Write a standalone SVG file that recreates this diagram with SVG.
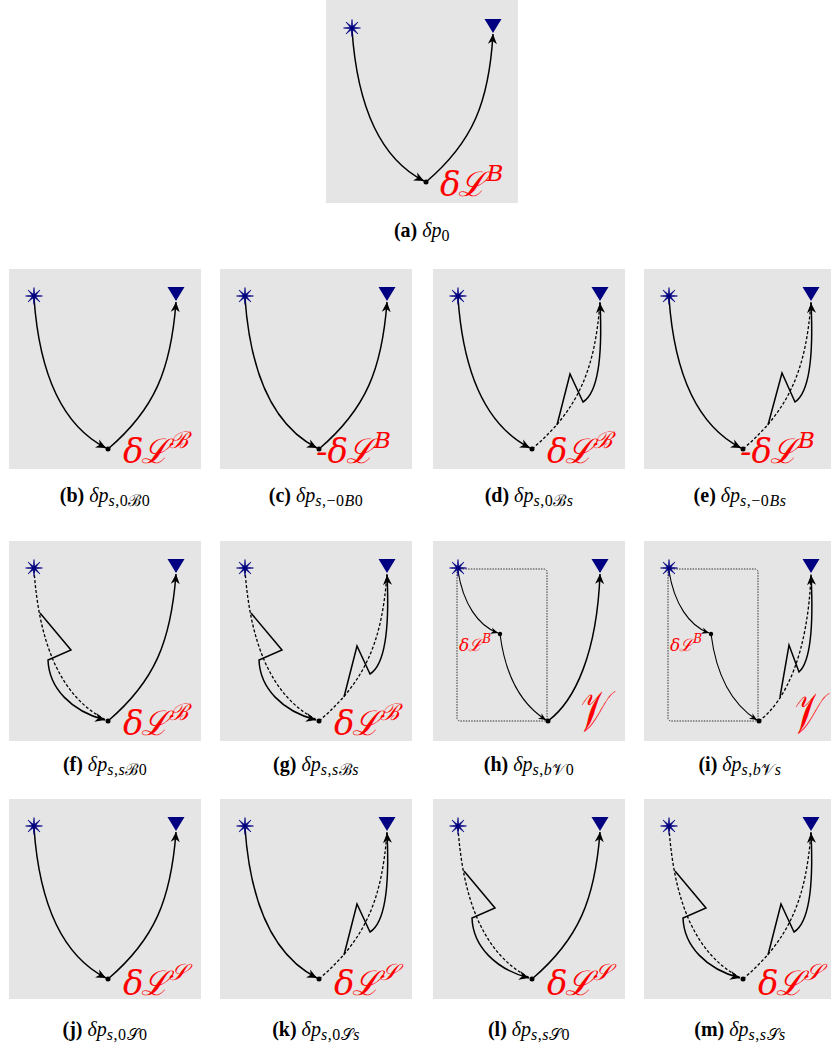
<svg xmlns="http://www.w3.org/2000/svg" xmlns:xlink="http://www.w3.org/1999/xlink" width="831" height="1045" viewBox="0 0 831 1045">
<style>
.box{fill:#e5e5e5;stroke:none}
.c{fill:none;stroke:#000;stroke-width:1.5}
.ct{fill:none;stroke:#000;stroke-width:1.1}
.d{fill:none;stroke:#000;stroke-width:1.3;stroke-dasharray:3 2}
.dr{fill:none;stroke:#333;stroke-width:1;stroke-dasharray:1.5 1.2}
.star{fill:#000080;stroke:#000080;stroke-width:0.6}
.tri{fill:#000080}
.dot{fill:#000}
.lab{fill:#ff0000;font-family:"DejaVu Serif",serif;font-style:italic;font-size:34px}
.labs{fill:#ff0000;font-family:"DejaVu Serif",serif;font-style:italic;font-size:17px}
.cap{font-family:"Liberation Serif","Times New Roman",serif;font-size:20px;fill:#000}
.bf{font-weight:bold}
.it{font-style:italic}
.sub{font-size:16px;letter-spacing:0.5px}
</style>
<defs>
<marker id="ah" markerUnits="userSpaceOnUse" viewBox="-11 -6 12 12" markerWidth="12" markerHeight="12" refX="0" refY="0" orient="auto">
<path d="M0,0 L-10,-4.5 L-7,0 L-10,4.5 Z" fill="#000"/>
</marker>
<marker id="ahs" markerUnits="userSpaceOnUse" viewBox="-11 -6 12 12" markerWidth="10" markerHeight="10" refX="0" refY="0" orient="auto">
<path d="M0,0 L-9,-4 L-6,0 L-9,4 Z" fill="#000"/>
</marker>
<polygon id="starS" class="star" points="0,-8.5 0.77,-1.85 6.01,-6.01 1.85,-0.77 8.5,0 1.85,0.77 6.01,6.01 0.77,1.85 0,8.5 -0.77,1.85 -6.01,6.01 -1.85,0.77 -8.5,0 -1.85,-0.77 -6.01,-6.01 -0.77,-1.85"/>
<polygon id="triS" class="tri" points="-8.5,-7 8.5,-7 0,7"/>
</defs>

<!-- (a) -->
<g id="panel-a" transform="translate(326,0)">
<rect class="box" x="0" y="0" width="192" height="203"/>
<g id="a-connectors">
<path class="c" d="M26,30 C31,102 51,157 98,181" marker-end="url(#ah)"/>
<path class="c" d="M100,182 C147,142 163,102 167,34" marker-end="url(#ah)"/>
</g>
<g id="a-start"><use xlink:href="#starS" x="26" y="28"/></g>
<g id="a-end"><use xlink:href="#triS" x="167" y="26"/></g>
<g id="a-mid"><circle class="dot" cx="100" cy="182" r="2.5"/></g>
<text class="lab" x="114" y="196">δ<tspan dx="-2">ℒ</tspan><tspan font-size="23" dy="-15">B</tspan></text>
</g>
<text class="cap" x="422" y="237" text-anchor="middle"><tspan class="bf">(a)</tspan> <tspan class="it">δp</tspan><tspan class="sub" dy="4">0</tspan></text>

<!-- (b) -->
<g id="panel-b" transform="translate(9,269)">
<rect class="box" x="0" y="0" width="192" height="200"/>
<g id="b-connectors">
<path class="c" d="M25,29 C30,100 50,155 97,179" marker-end="url(#ah)"/>
<path class="c" d="M99,180 C146,140 162,100 167,33" marker-end="url(#ah)"/>
</g>
<g id="b-start"><use xlink:href="#starS" x="25" y="27"/></g>
<g id="b-end"><use xlink:href="#triS" x="167" y="25"/></g>
<g id="b-mid"><circle class="dot" cx="99" cy="180" r="2.5"/></g>
<text class="lab" x="114" y="194">δ<tspan dx="-2">ℒ</tspan><tspan font-size="23" dy="-15">ℬ</tspan></text>
</g>
<text class="cap" x="105" y="502" text-anchor="middle"><tspan class="bf">(b)</tspan> <tspan class="it">δp</tspan><tspan class="sub it" dy="4">s</tspan><tspan class="sub">,0ℬ0</tspan></text>

<!-- (c) -->
<g id="panel-c" transform="translate(220,269)">
<rect class="box" x="0" y="0" width="192" height="200"/>
<g id="c-connectors">
<path class="c" d="M25,29 C30,100 50,155 97,179" marker-end="url(#ah)"/>
<path class="c" d="M99,180 C146,140 162,100 167,33" marker-end="url(#ah)"/>
</g>
<g id="c-start"><use xlink:href="#starS" x="25" y="27"/></g>
<g id="c-end"><use xlink:href="#triS" x="167" y="25"/></g>
<g id="c-mid"><circle class="dot" cx="99" cy="180" r="2.5"/></g>
<text class="lab" x="96" y="194">-δ<tspan dx="-2">ℒ</tspan><tspan font-size="23" dy="-15">B</tspan></text>
</g>
<text class="cap" x="316" y="502" text-anchor="middle"><tspan class="bf">(c)</tspan> <tspan class="it">δp</tspan><tspan class="sub it" dy="4">s</tspan><tspan class="sub">,−0</tspan><tspan class="sub it">B</tspan><tspan class="sub">0</tspan></text>

<!-- (d) -->
<g id="panel-d" transform="translate(433,269)">
<rect class="box" x="0" y="0" width="192" height="200"/>
<g id="d-connectors">
<path class="c" d="M25,29 C30,100 50,155 97,179" marker-end="url(#ah)"/>
<path class="d" d="M99,180 C146,140 162,100 167,33"/>
<path class="c" d="M124,156 L137,105 L150,133 C163,125 170,95 167,34" marker-end="url(#ah)"/>
</g>
<g id="d-start"><use xlink:href="#starS" x="25" y="27"/></g>
<g id="d-end"><use xlink:href="#triS" x="167" y="25"/></g>
<g id="d-mid"><circle class="dot" cx="99" cy="180" r="2.5"/></g>
<text class="lab" x="114" y="194">δ<tspan dx="-2">ℒ</tspan><tspan font-size="23" dy="-15">ℬ</tspan></text>
</g>
<text class="cap" x="529" y="502" text-anchor="middle"><tspan class="bf">(d)</tspan> <tspan class="it">δp</tspan><tspan class="sub it" dy="4">s</tspan><tspan class="sub">,0ℬ</tspan><tspan class="sub it">s</tspan></text>

<!-- (e) -->
<g id="panel-e" transform="translate(644,269)">
<rect class="box" x="0" y="0" width="192" height="200"/>
<g id="e-connectors">
<path class="c" d="M25,29 C30,100 50,155 97,179" marker-end="url(#ah)"/>
<path class="d" d="M99,180 C146,140 162,100 167,33"/>
<path class="c" d="M124,156 L138,104 L151,133 C163,125 170,95 167,34" marker-end="url(#ah)"/>
</g>
<g id="e-start"><use xlink:href="#starS" x="25" y="27"/></g>
<g id="e-end"><use xlink:href="#triS" x="167" y="25"/></g>
<g id="e-mid"><circle class="dot" cx="99" cy="180" r="2.5"/></g>
<text class="lab" x="96" y="194">-δ<tspan dx="-2">ℒ</tspan><tspan font-size="23" dy="-15">B</tspan></text>
</g>
<text class="cap" x="740" y="502" text-anchor="middle"><tspan class="bf">(e)</tspan> <tspan class="it">δp</tspan><tspan class="sub it" dy="4">s</tspan><tspan class="sub">,−0</tspan><tspan class="sub it">Bs</tspan></text>

<!-- (f) -->
<g id="panel-f" transform="translate(9,541)">
<rect class="box" x="0" y="0" width="192" height="200"/>
<g id="f-connectors">
<path class="d" d="M25,29 C30,100 50,155 97,179"/>
<path class="c" d="M31,72 L62,109 L39,119 C40,147 62,170 96,179" marker-end="url(#ah)"/>
<path class="c" d="M99,180 C146,140 162,100 167,33" marker-end="url(#ah)"/>
</g>
<g id="f-start"><use xlink:href="#starS" x="25" y="27"/></g>
<g id="f-end"><use xlink:href="#triS" x="167" y="25"/></g>
<g id="f-mid"><circle class="dot" cx="99" cy="180" r="2.5"/></g>
<text class="lab" x="114" y="194">δ<tspan dx="-2">ℒ</tspan><tspan font-size="23" dy="-15">ℬ</tspan></text>
</g>
<text class="cap" x="105" y="771" text-anchor="middle"><tspan class="bf">(f)</tspan> <tspan class="it">δp</tspan><tspan class="sub it" dy="4">s</tspan><tspan class="sub">,</tspan><tspan class="sub it">s</tspan><tspan class="sub">ℬ0</tspan></text>

<!-- (g) -->
<g id="panel-g" transform="translate(220,541)">
<rect class="box" x="0" y="0" width="192" height="200"/>
<g id="g-connectors">
<path class="d" d="M25,29 C30,100 50,155 97,179"/>
<path class="c" d="M31,72 L62,109 L39,119 C40,147 62,170 96,179" marker-end="url(#ah)"/>
<path class="d" d="M99,180 C146,140 162,100 167,33"/>
<path class="c" d="M124,156 L137,105 L150,133 C163,125 170,95 167,34" marker-end="url(#ah)"/>
</g>
<g id="g-start"><use xlink:href="#starS" x="25" y="27"/></g>
<g id="g-end"><use xlink:href="#triS" x="167" y="25"/></g>
<g id="g-mid"><circle class="dot" cx="99" cy="180" r="2.5"/></g>
<text class="lab" x="114" y="194">δ<tspan dx="-2">ℒ</tspan><tspan font-size="23" dy="-15">ℬ</tspan></text>
</g>
<text class="cap" x="316" y="771" text-anchor="middle"><tspan class="bf">(g)</tspan> <tspan class="it">δp</tspan><tspan class="sub it" dy="4">s</tspan><tspan class="sub">,</tspan><tspan class="sub it">s</tspan><tspan class="sub">ℬ</tspan><tspan class="sub it">s</tspan></text>

<!-- (h) -->
<g id="panel-h" transform="translate(433,541)">
<rect class="box" x="0" y="0" width="192" height="200"/>
<rect class="dr" x="24" y="28" width="90" height="152" rx="3"/>
<g id="h-connectors">
<path class="ct" d="M25,30 C30,62 45,85 65,92" marker-end="url(#ahs)"/>
<path class="ct" d="M67,93 C72,132 86,162 113,179" marker-end="url(#ahs)"/>
<path class="c" d="M115,180 C142,160 164,112 167,33" marker-end="url(#ah)"/>
</g>
<g id="h-start"><use xlink:href="#starS" x="25" y="27"/></g>
<g id="h-end"><use xlink:href="#triS" x="167" y="25"/></g>
<g id="h-mid1"><circle class="dot" cx="67" cy="93" r="2.2"/></g>
<g id="h-mid2"><circle class="dot" cx="115" cy="180" r="2.5"/></g>
<text class="labs" x="26" y="110">δ<tspan dx="-1">ℒ</tspan><tspan font-size="12" dy="-8">B</tspan></text>
<g transform="translate(144,190) scale(1,1.7)"><text class="lab" x="0" y="0" font-size="52">𝒱</text></g>
</g>
<text class="cap" x="529" y="771" text-anchor="middle"><tspan class="bf">(h)</tspan> <tspan class="it">δp</tspan><tspan class="sub it" dy="4">s</tspan><tspan class="sub">,</tspan><tspan class="sub it">b</tspan><tspan class="sub">𝒱0</tspan></text>

<!-- (i) -->
<g id="panel-i" transform="translate(644,541)">
<rect class="box" x="0" y="0" width="192" height="200"/>
<rect class="dr" x="24" y="28" width="90" height="152" rx="3"/>
<g id="i-connectors">
<path class="ct" d="M25,30 C30,62 45,85 65,92" marker-end="url(#ahs)"/>
<path class="ct" d="M67,93 C72,132 86,162 113,179" marker-end="url(#ahs)"/>
<path class="d" d="M115,180 C142,160 164,112 167,33"/>
<path class="c" d="M136,156 L145,104 L155,131 C165,122 170,92 167,34" marker-end="url(#ah)"/>
</g>
<g id="i-start"><use xlink:href="#starS" x="25" y="27"/></g>
<g id="i-end"><use xlink:href="#triS" x="167" y="25"/></g>
<g id="i-mid1"><circle class="dot" cx="67" cy="93" r="2.2"/></g>
<g id="i-mid2"><circle class="dot" cx="115" cy="180" r="2.5"/></g>
<text class="labs" x="26" y="110">δ<tspan dx="-1">ℒ</tspan><tspan font-size="12" dy="-8">B</tspan></text>
<g transform="translate(147,192) scale(1,1.7)"><text class="lab" x="0" y="0" font-size="52">𝒱</text></g>
</g>
<text class="cap" x="740" y="771" text-anchor="middle"><tspan class="bf">(i)</tspan> <tspan class="it">δp</tspan><tspan class="sub it" dy="4">s</tspan><tspan class="sub">,</tspan><tspan class="sub it">b</tspan><tspan class="sub">𝒱</tspan><tspan class="sub it">s</tspan></text>

<!-- (j) -->
<g id="panel-j" transform="translate(9,799)">
<rect class="box" x="0" y="0" width="192" height="200"/>
<g id="j-connectors">
<path class="c" d="M25,29 C30,100 50,155 97,179" marker-end="url(#ah)"/>
<path class="c" d="M99,180 C146,140 162,100 167,33" marker-end="url(#ah)"/>
</g>
<g id="j-start"><use xlink:href="#starS" x="25" y="27"/></g>
<g id="j-end"><use xlink:href="#triS" x="167" y="25"/></g>
<g id="j-mid"><circle class="dot" cx="99" cy="180" r="2.5"/></g>
<text class="lab" x="114" y="196">δ<tspan dx="-2">ℒ</tspan><tspan font-size="23" dy="-15">𝒮</tspan></text>
</g>
<text class="cap" x="105" y="1036" text-anchor="middle"><tspan class="bf">(j)</tspan> <tspan class="it">δp</tspan><tspan class="sub it" dy="4">s</tspan><tspan class="sub">,0𝒮0</tspan></text>

<!-- (k) -->
<g id="panel-k" transform="translate(220,799)">
<rect class="box" x="0" y="0" width="192" height="200"/>
<g id="k-connectors">
<path class="c" d="M25,29 C30,100 50,155 97,179" marker-end="url(#ah)"/>
<path class="d" d="M99,180 C146,140 162,100 167,33"/>
<path class="c" d="M124,156 L137,105 L150,133 C163,125 170,95 167,34" marker-end="url(#ah)"/>
</g>
<g id="k-start"><use xlink:href="#starS" x="25" y="27"/></g>
<g id="k-end"><use xlink:href="#triS" x="167" y="25"/></g>
<g id="k-mid"><circle class="dot" cx="99" cy="180" r="2.5"/></g>
<text class="lab" x="114" y="196">δ<tspan dx="-2">ℒ</tspan><tspan font-size="23" dy="-15">𝒮</tspan></text>
</g>
<text class="cap" x="316" y="1036" text-anchor="middle"><tspan class="bf">(k)</tspan> <tspan class="it">δp</tspan><tspan class="sub it" dy="4">s</tspan><tspan class="sub">,0𝒮</tspan><tspan class="sub it">s</tspan></text>

<!-- (l) -->
<g id="panel-l" transform="translate(433,799)">
<rect class="box" x="0" y="0" width="192" height="200"/>
<g id="l-connectors">
<path class="d" d="M25,29 C30,100 50,155 97,179"/>
<path class="c" d="M31,72 L62,109 L39,119 C40,147 62,170 96,179" marker-end="url(#ah)"/>
<path class="c" d="M99,180 C146,140 162,100 167,33" marker-end="url(#ah)"/>
</g>
<g id="l-start"><use xlink:href="#starS" x="25" y="27"/></g>
<g id="l-end"><use xlink:href="#triS" x="167" y="25"/></g>
<g id="l-mid"><circle class="dot" cx="99" cy="180" r="2.5"/></g>
<text class="lab" x="114" y="196">δ<tspan dx="-2">ℒ</tspan><tspan font-size="23" dy="-15">𝒮</tspan></text>
</g>
<text class="cap" x="529" y="1036" text-anchor="middle"><tspan class="bf">(l)</tspan> <tspan class="it">δp</tspan><tspan class="sub it" dy="4">s</tspan><tspan class="sub">,</tspan><tspan class="sub it">s</tspan><tspan class="sub">𝒮0</tspan></text>

<!-- (m) -->
<g id="panel-m" transform="translate(644,799)">
<rect class="box" x="0" y="0" width="192" height="200"/>
<g id="m-connectors">
<path class="d" d="M25,29 C30,100 50,155 97,179"/>
<path class="c" d="M31,72 L62,109 L39,119 C40,147 62,170 96,179" marker-end="url(#ah)"/>
<path class="d" d="M99,180 C146,140 162,100 167,33"/>
<path class="c" d="M124,156 L137,105 L150,133 C163,125 170,95 167,34" marker-end="url(#ah)"/>
</g>
<g id="m-start"><use xlink:href="#starS" x="25" y="27"/></g>
<g id="m-end"><use xlink:href="#triS" x="167" y="25"/></g>
<g id="m-mid"><circle class="dot" cx="99" cy="180" r="2.5"/></g>
<text class="lab" x="114" y="196">δ<tspan dx="-2">ℒ</tspan><tspan font-size="23" dy="-15">𝒮</tspan></text>
</g>
<text class="cap" x="740" y="1036" text-anchor="middle"><tspan class="bf">(m)</tspan> <tspan class="it">δp</tspan><tspan class="sub it" dy="4">s</tspan><tspan class="sub">,</tspan><tspan class="sub it">s</tspan><tspan class="sub">𝒮</tspan><tspan class="sub it">s</tspan></text>
</svg>
